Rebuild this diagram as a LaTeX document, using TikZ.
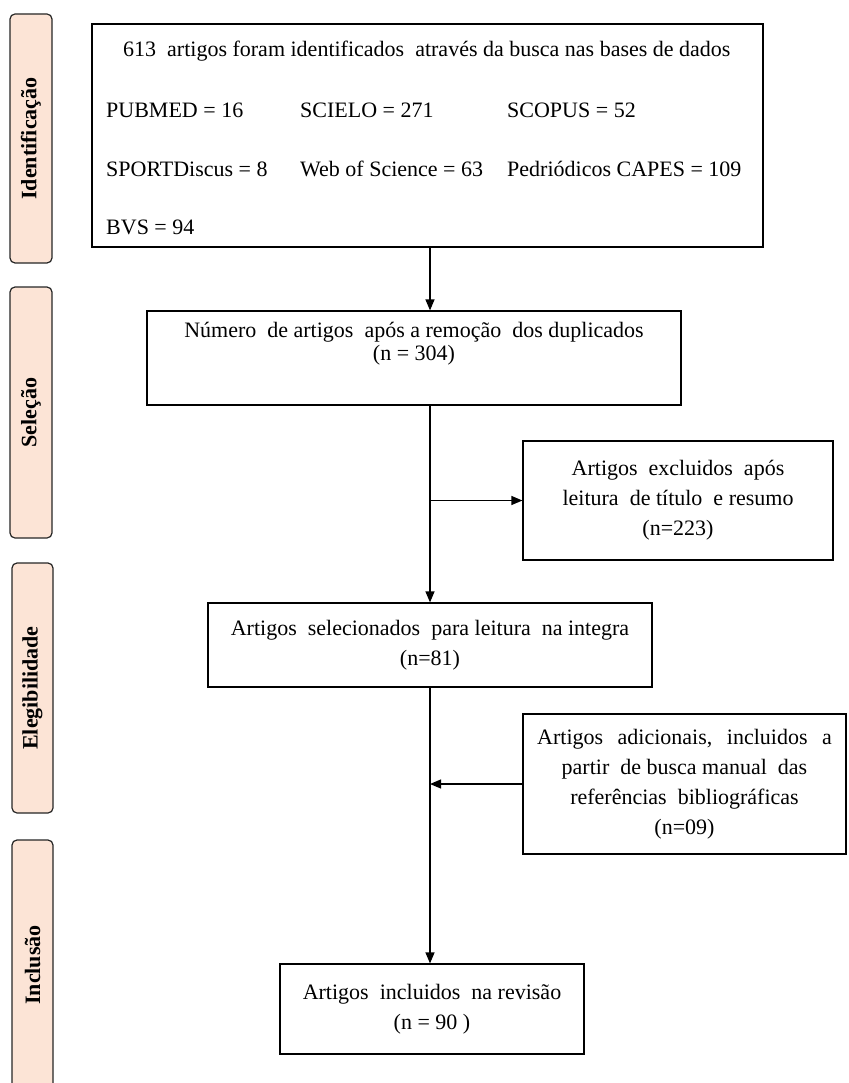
\documentclass[tikz,border=0pt]{standalone}
\usepackage{fontspec}
\setmainfont{Liberation Serif}
\usetikzlibrary{arrows.meta}
\definecolor{pessego}{HTML}{FCE4D6}

\begin{document}
\begin{tikzpicture}[x=1pt,y=-1pt,
    caixa/.style={draw, line width=1.2pt, align=center, inner sep=0pt,
      font=\fontsize{22}{30}\selectfont},
    fase/.style={draw=black!85, line width=1.2pt, rounded corners=5pt, fill=pessego,
      rotate=90, inner sep=0pt, font=\bfseries\fontsize{22}{26}\selectfont},
    linha/.style={anchor=base west, inner sep=0pt, font=\fontsize{22}{26}\selectfont},
    >={Triangle[length=11pt,width=9pt]}]
  \useasboundingbox (0,0) rectangle (848,1083);

  % fases
  \node[fase, minimum width=249pt, minimum height=42pt] (ident) at (31,138.5) {Identificação};
  \node[fase, minimum width=251pt, minimum height=42pt] (selecao) at (31,412.5) {Seleção};
  \node[fase, minimum width=250pt, minimum height=41pt] (eleg) at (32.5,688) {Elegibilidade};
  \node[fase, minimum width=250pt, minimum height=41pt] (inclusao) at (32.5,965) {Inclusão};

  % busca nas bases
  \node[caixa, minimum width=671pt, minimum height=223pt] (busca) at (427.5,135.5) {};
  \node[linha] (total) at (123,57) {613\ \ artigos foram identificados\ \ através da busca nas bases de dados};
  \node[linha] (pubmed) at (106,118) {PUBMED = 16};
  \node[linha] (scielo) at (300,118) {SCIELO = 271};
  \node[linha] (scopus) at (507,118) {SCOPUS = 52};
  \node[linha] (sport) at (106,177) {SPORTDiscus = 8};
  \node[linha] (wos) at (300,177) {Web of Science = 63};
  \node[linha] (capes) at (507,177) {Pedriódicos CAPES = 109};
  \node[linha] (bvs) at (106,235) {BVS = 94};

  % caixas do fluxo
  \node[caixa, minimum width=534pt, minimum height=94pt, text depth=33pt,
    font=\fontsize{22}{23}\selectfont] (duplic) at (414,358)
    {Número\ \ de artigos\ \ após a remoção\ \ dos duplicados\\(n = 304)};
  \node[caixa, minimum width=310pt, minimum height=119pt] (excl) at (678,500.5)
    {Artigos\ \ excluidos\ \ após\\leitura\ \ de título\ \ e resumo\\(n=223)};
  \node[caixa, minimum width=444pt, minimum height=84pt] (selec) at (430,645)
    {Artigos\ \ selecionados\ \ para leitura\ \ na integra\\(n=81)};
  \node[caixa, minimum width=323pt, minimum height=140pt] (adic) at (684.5,784)
    {Artigos\hspace{9pt} adicionais,\hspace{9pt} incluidos\hspace{9pt} a\\partir\ \ de busca manual\ \ das\\referências\ \ bibliográficas\\(n=09)};
  \node[caixa, minimum width=304pt, minimum height=90pt] (incl) at (432,1009)
    {Artigos\ \ incluidos\ \ na revisão\\(n = 90 )};

  \coordinate (eixo) at (430,0);
  \begin{scope}[->, line width=1.2pt]
    \draw (busca.south -| eixo) -- (duplic.north -| eixo);
    \draw (duplic.south -| eixo) -- (selec.north -| eixo);
    \draw (duplic.south -| eixo) |- (excl.west);
    \draw (selec.south -| eixo) -- (incl.north -| eixo);
    \draw (adic.west) -- (adic.west -| eixo);
  \end{scope}
\end{tikzpicture}
\end{document}
